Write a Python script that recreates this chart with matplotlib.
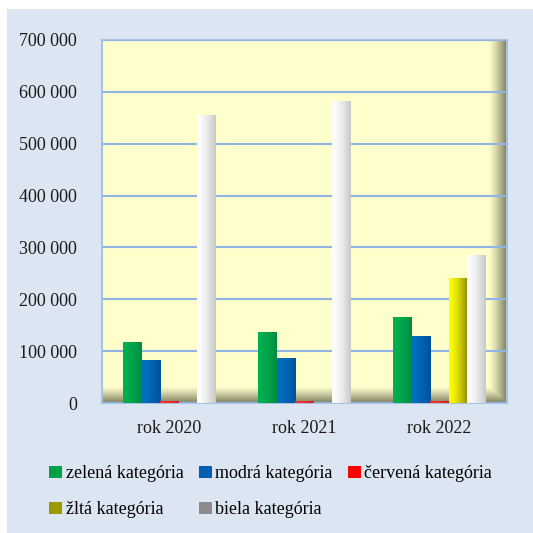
import matplotlib
matplotlib.use("Agg")
import matplotlib.pyplot as plt
import numpy as np
from matplotlib.patches import Rectangle
from matplotlib.ticker import FuncFormatter

# data
roky = ["rok 2020", "rok 2021", "rok 2022"]
zelena = [116000, 135500, 164000]
modra = [81000, 86000, 128000]
cervena = [2000, 2500, 3500]
zlta = [0, 0, 240000]
biela = [554000, 582000, 285000]

nazvy = ["zelená kategória", "modrá kategória", "červená kategória",
         "žltá kategória", "biela kategória"]
serie = [zelena, modra, cervena, zlta, biela]
# (light, dark) for the cylinder-ish shading
farby = [("#00B050", "#008C40"), ("#0070C0", "#00509A"), ("#FF3030", "#D02020"),
         ("#FFFF00", "#8C8800"), ("#FFFFFF", "#C8C8C8")]
leg_farby = ["#00A04A", "#005FAF", "#FF0000", "#9C9A00", "#8C8C8C"]

plt.rcParams['font.family'] = ['Liberation Serif', 'DejaVu Serif']

fig = plt.figure(figsize=(5.33, 5.33), dpi=100)
fig.patch.set_facecolor("white")
fig.add_artist(Rectangle((7/533, 0), 1 - 7/533, 1 - 9/533, transform=fig.transFigure,
                         facecolor="#DCE6F2", edgecolor="none", zorder=-10))

ax = fig.add_axes([102/533, 130/533, 405/533, 363/533])
ax.set_facecolor("#FFFFCC")

# plot background with shadow at right and bottom
nx, ny = 400, 360
base = np.array([1.0, 1.0, 0.8])
dark = np.array([0.50, 0.50, 0.38])
xs = np.linspace(0, 1, nx)
ys = np.linspace(0, 1, ny)  # 0 = top
wx = np.clip((xs - 0.955) / 0.045, 0, 1) ** 1.3
wy = np.clip((ys - 0.955) / 0.045, 0, 1) ** 1.2
w = np.maximum(wx[None, :], wy[:, None])
img = base[None, None, :] * (1 - w[..., None]) + dark[None, None, :] * w[..., None]
ax.imshow(img, extent=[0, 1, 0, 1], transform=ax.transAxes, aspect="auto", zorder=0)

x = np.arange(len(roky))
n = len(serie)
sirka = 0.138
for i, (vals, (c1, c2)) in enumerate(zip(serie, farby)):
    pos = x - sirka * n / 2 + sirka * (i + 0.5)
    ax.bar(pos, vals, sirka, color=c1, zorder=2)
    grad = np.linspace(0, 1, 50) ** 1.5
    a = np.array(matplotlib.colors.to_rgb(c1))
    b = np.array(matplotlib.colors.to_rgb(c2))
    gimg = (a[None, :] * (1 - grad[:, None]) + b[None, :] * grad[:, None])[None, :, :]
    for p, v in zip(pos, vals):
        if v > 0:
            ax.imshow(gimg, extent=[p - sirka / 2, p + sirka / 2, 0, v],
                      aspect="auto", zorder=3)

ax.set_xlim(-0.5, 2.5)
ax.set_ylim(0, 700000)
ax.set_yticks(np.arange(0, 700001, 100000))
ax.yaxis.set_major_formatter(FuncFormatter(lambda v, p: f"{int(v):,}".replace(",", " ")))
ax.set_xticks(x)
ax.set_xticklabels(roky)
ax.tick_params(length=0, labelsize=13, colors="#1a1a1a")
ax.tick_params(axis="x", pad=12)
ax.tick_params(axis="y", pad=18)
ax.grid(axis="y", color="#8DB4E2", linewidth=1.5, zorder=1)
ax.set_axisbelow(False)
for gl in ax.get_ygridlines():
    gl.set_zorder(1)
for s in ax.spines.values():
    s.set_color("#A9C2E0")
    s.set_linewidth(1.5)

# legend in row order
handles = [Rectangle((0, 0), 1, 1, facecolor=c, edgecolor="none") for c in leg_farby]
order = [0, 3, 1, 4, 2]
fig.legend([handles[k] for k in order], [nazvy[k] for k in order],
           ncol=3, loc="center", bbox_to_anchor=(0.508, 0.077), frameon=False,
           fontsize=13, handlelength=0.7, handleheight=0.7, handletextpad=0.2,
           columnspacing=0.86, labelspacing=1.05)

fig.savefig("out.png", dpi=100)
